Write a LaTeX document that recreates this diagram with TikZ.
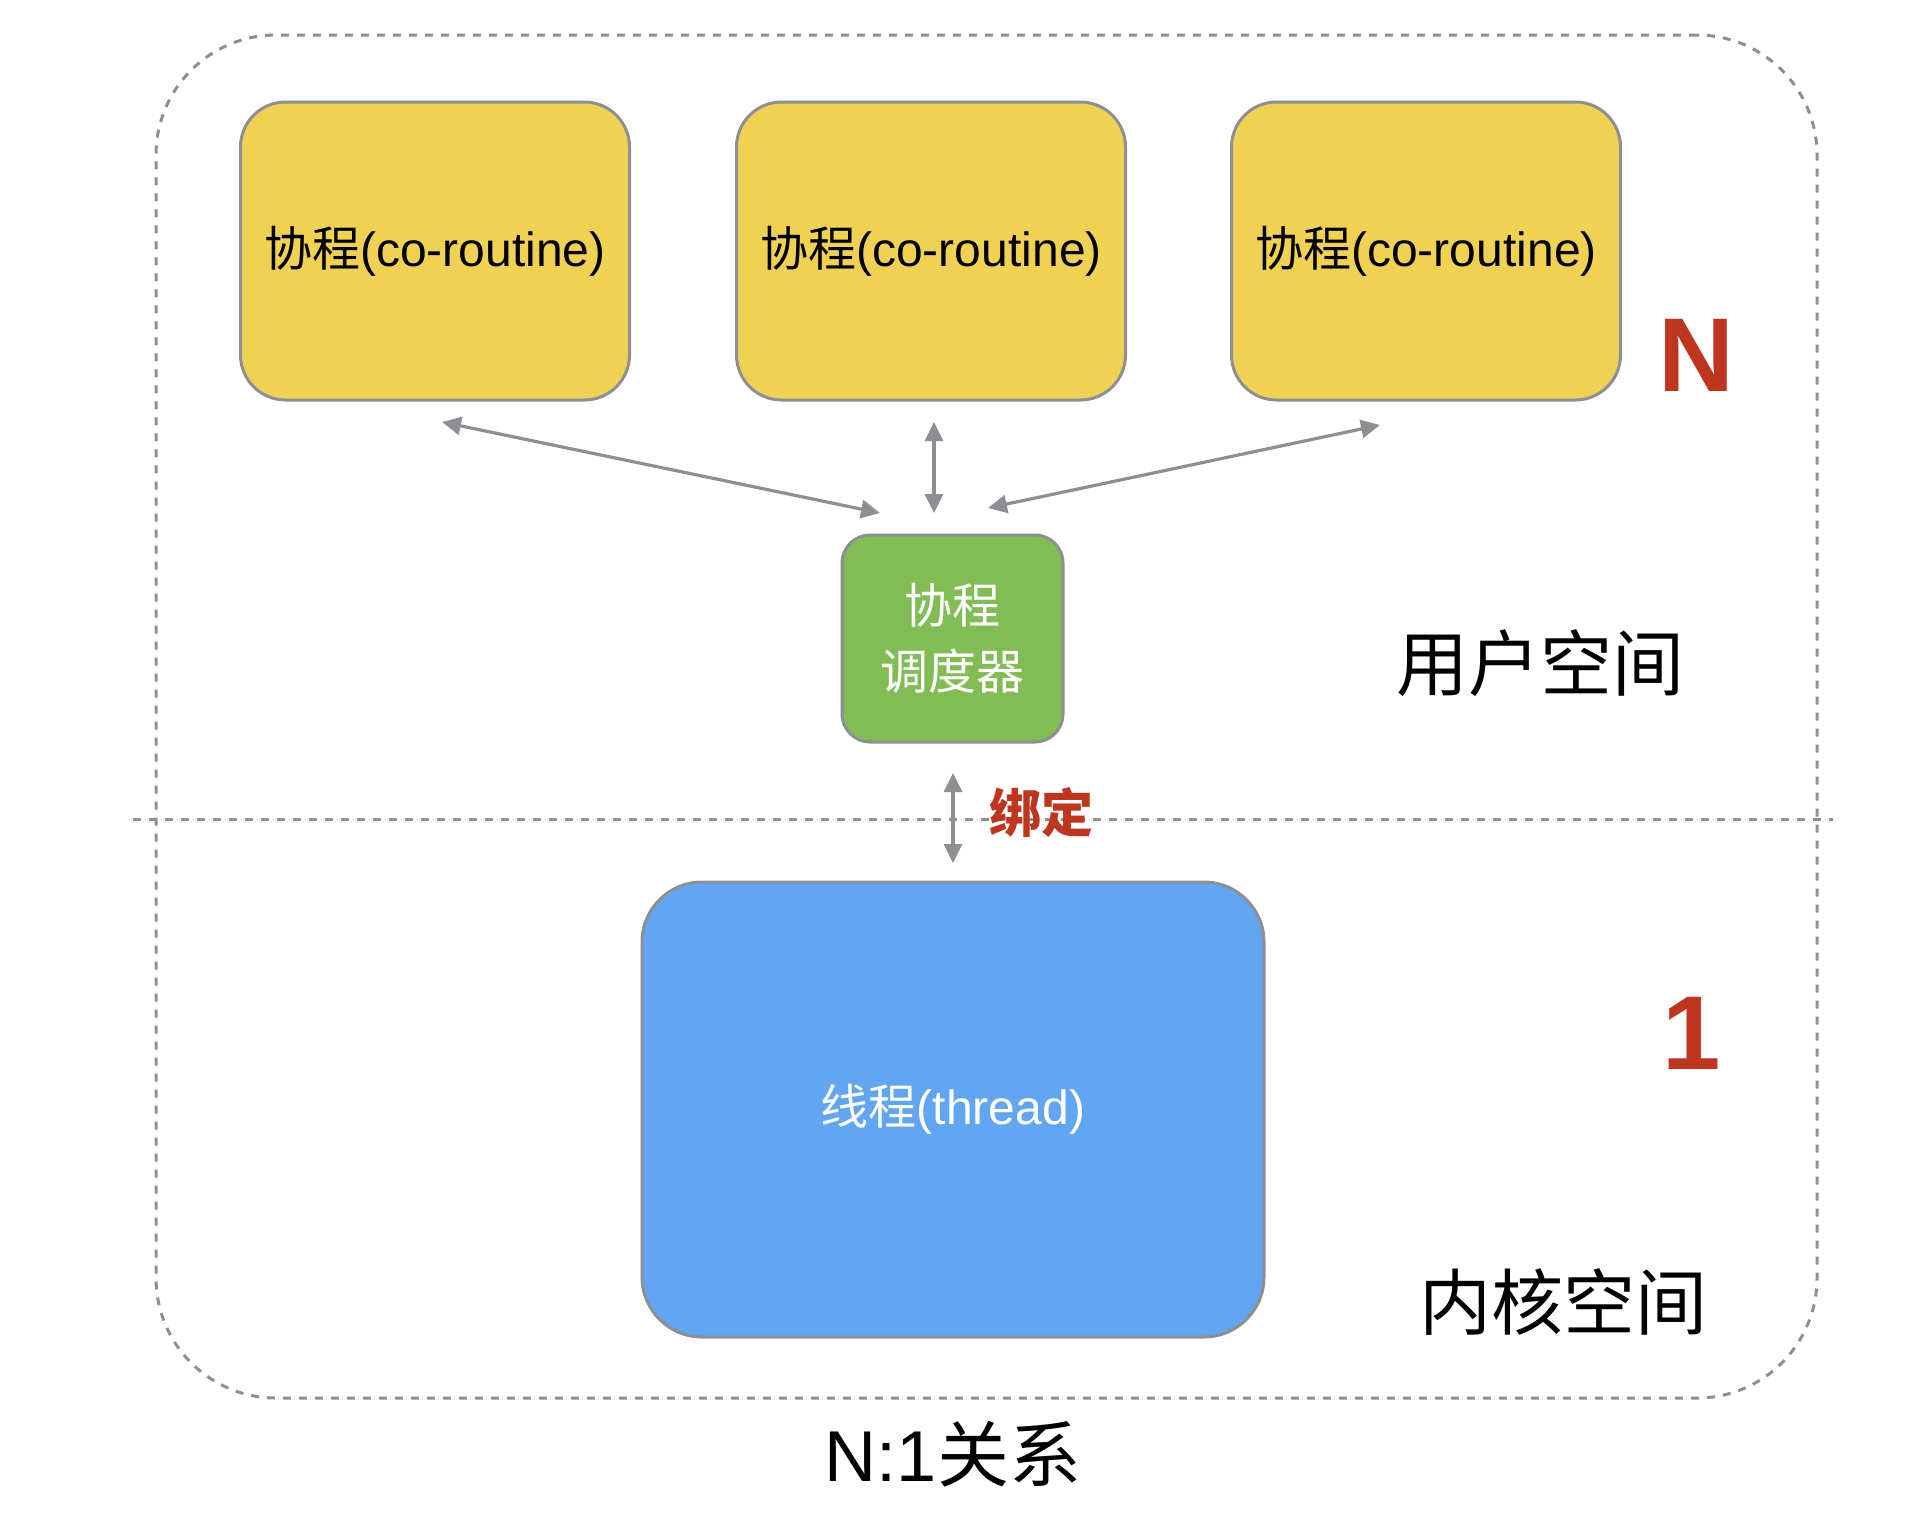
\documentclass[tikz,border=0pt]{standalone}
\usepackage{fontspec}
\setmainfont{Liberation Sans}
\newfontfamily\cjk{Noto Sans CJK SC}
\usetikzlibrary{arrows.meta}
\definecolor{ylw}{HTML}{EFD254}
\definecolor{grn}{HTML}{82BC55}
\definecolor{blu}{HTML}{62A6F2}
\definecolor{edge}{HTML}{8E8F93}
\definecolor{redtxt}{HTML}{BE3520}
\begin{document}
\begin{tikzpicture}[x=1pt,y=-1pt,
  boxbase/.style={draw=edge, line width=3pt, inner sep=0pt, align=center},
  ybox/.style={boxbase, fill=ylw, rounded corners=45pt, minimum width=389pt, minimum height=298pt, font=\fontsize{48}{58}\selectfont},
  gbox/.style={boxbase, fill=grn, rounded corners=28pt, minimum width=221pt, minimum height=207pt, text=white, font=\cjk\fontsize{48}{66}\selectfont},
  bbox/.style={boxbase, fill=blu, rounded corners=60pt, minimum width=622pt, minimum height=455pt, text=white, font=\fontsize{48}{58}\selectfont},
  dashline/.style={draw=edge, line width=3pt, dash pattern=on 8pt off 8pt},
  conn/.style={draw=edge, line width=3.2pt, {Triangle[length=19pt,width=18pt]}-{Triangle[length=19pt,width=18pt]}},
  bigred/.style={text=redtxt, inner sep=0pt, font=\fontsize{105}{105}\selectfont\bfseries},
  space/.style={inner sep=0pt, font=\cjk\fontsize{72}{72}\selectfont}
]
\useasboundingbox (0,0) rectangle (1920,1524);

% outer dashed region
\node[dashline, rounded corners=120pt, minimum width=1661pt, minimum height=1363pt, inner sep=0pt] (outer) at (986.5,716.5) {};
\coordinate (dl) at (133,819);
\coordinate (dr) at (1833,819);
\draw[dashline] (dl) -- (dr);

% co-routines
\node[ybox] (c1) at (435,251) {{\cjk 协程}(co-routine)};
\node[ybox] (c2) at (931,251) {{\cjk 协程}(co-routine)};
\node[ybox] (c3) at (1426,251) {{\cjk 协程}(co-routine)};

% scheduler
\node[gbox] (sched) at (952.5,638.5) {协程\\调度器};

% thread
\node[bbox] (thread) at (953,1109.5) {{\cjk 线程}(thread)};

% arrows
\coordinate (a1s) at (442,422);
\coordinate (a1e) at (880,513);
\coordinate (a2s) at (934,422);
\coordinate (a2e) at (934,513);
\coordinate (a3s) at (1380,425);
\coordinate (a3e) at (988,508);
\coordinate (b1) at (953,773);
\coordinate (b2) at (953,863);
\draw[conn] (a1s) -- (a1e);
\draw[conn] (a2s) -- (a2e);
\draw[conn] (a3s) -- (a3e);
\draw[conn] (b1) -- (b2);

% labels
\node[text=redtxt, inner sep=0pt, font=\cjk\fontsize{52}{52}\selectfont\bfseries] (bind) at (1041,812) {绑定};
\node[bigred] (N) at (1696,355) {N};
\node[bigred] (one) at (1692,1033) {1};
\node[space] (user) at (1540,663) {用户空间};
\node[space] (kernel) at (1563,1302) {内核空间};
\node[inner sep=0pt, font=\fontsize{72}{72}\selectfont] (title) at (953,1454) {N:1{\cjk 关系}};
\end{tikzpicture}
\end{document}
